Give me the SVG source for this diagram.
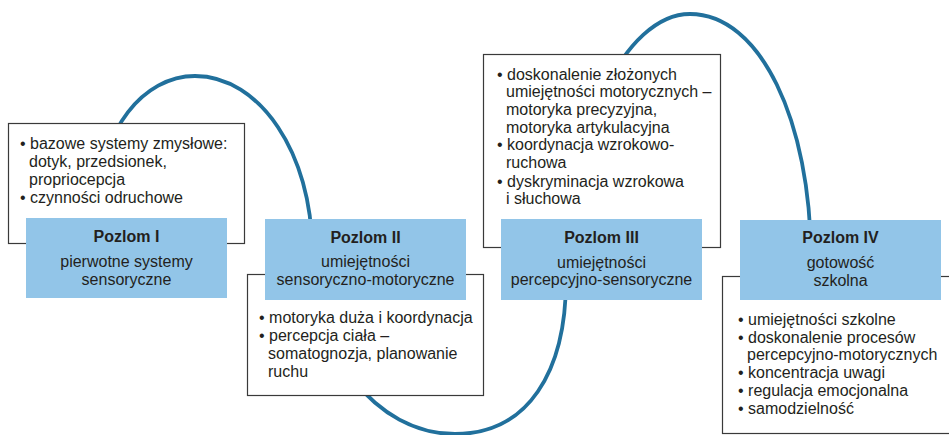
<svg xmlns="http://www.w3.org/2000/svg" width="949" height="435" viewBox="0 0 949 435">
<style>
.wb{fill:#fff;stroke:#3a3a3a;stroke-width:1.2}
.bb{fill:#92c5e8;stroke:none}
.t{font-family:"Liberation Sans",Arial,sans-serif;font-size:16px;fill:#231f20}
.h{font-family:"Liberation Sans",Arial,sans-serif;font-size:16px;font-weight:bold;fill:#231f20;text-anchor:middle}
.c{text-anchor:middle}
.curve{fill:none;stroke:#21709c;stroke-width:3.8}
</style>
<rect width="949" height="435" fill="#fff"/>
<g id="connectors">
<path class="curve" d="M100,200 C100,131 143,76 195,76 C260,76 312,154 312,250 C312,352 376,434 455,434 C528,434 566,372 566,280 C566,133 625,14 690,14 C760,14 811,120 811,260 C811,300 811,330 830,360"/>
</g>
<g id="level1">
<rect class="wb" x="8.5" y="123.5" width="236" height="120"/>
<text class="t" x="20" y="149">• bazowe systemy zmysłowe:</text>
<text class="t" x="29" y="167">dotyk, przedsionek,</text>
<text class="t" x="29" y="185">propriocepcja</text>
<text class="t" x="20" y="203">• czynności odruchowe</text>
<rect class="bb" x="26" y="218" width="201" height="80"/>
<text class="h" x="126.5" y="242">Pozlom I</text>
<text class="t c" x="126.5" y="267">pierwotne systemy</text>
<text class="t c" x="126.5" y="285">sensoryczne</text>
</g>
<g id="level2">
<rect class="wb" x="247.5" y="274.5" width="236" height="121"/>
<rect class="bb" x="265" y="219" width="201" height="81"/>
<text class="h" x="365.5" y="243">Pozlom II</text>
<text class="t c" x="365.5" y="267">umiejętności</text>
<text class="t c" x="365.5" y="285">sensoryczno-motoryczne</text>
<text class="t" x="259" y="323">• motoryka duża i koordynacja</text>
<text class="t" x="259" y="341">• percepcja ciała –</text>
<text class="t" x="268" y="359">somatognozja, planowanie</text>
<text class="t" x="268" y="377">ruchu</text>
</g>
<g id="level3">
<rect class="wb" x="483.5" y="54.5" width="237" height="193"/>
<text class="t" x="497" y="80">• doskonalenie złożonych</text>
<text class="t" x="506" y="97">umiejętności motorycznych –</text>
<text class="t" x="506" y="115">motoryka precyzyjna,</text>
<text class="t" x="506" y="133">motoryka artykulacyjna</text>
<text class="t" x="497" y="150">• koordynacja wzrokowo-</text>
<text class="t" x="506" y="168">ruchowa</text>
<text class="t" x="497" y="187">• dyskryminacja wzrokowa</text>
<text class="t" x="506" y="204">i słuchowa</text>
<rect class="bb" x="501" y="219" width="201" height="81"/>
<text class="h" x="601.5" y="243">Pozlom III</text>
<text class="t c" x="601.5" y="268">umiejętności</text>
<text class="t c" x="601.5" y="285">percepcyjno-sensoryczne</text>
</g>
<g id="level4">
<rect class="wb" x="722.5" y="276.5" width="240" height="157"/>
<rect class="bb" x="740" y="220" width="201" height="80"/>
<text class="h" x="840.5" y="243">Pozlom IV</text>
<text class="t c" x="840.5" y="268">gotowość</text>
<text class="t c" x="840.5" y="286">szkolna</text>
<text class="t" x="738" y="325">• umiejętności szkolne</text>
<text class="t" x="738" y="343">• doskonalenie procesów</text>
<text class="t" x="747" y="360">percepcyjno-motorycznych</text>
<text class="t" x="738" y="378">• koncentracja uwagi</text>
<text class="t" x="738" y="396">• regulacja emocjonalna</text>
<text class="t" x="738" y="414">• samodzielność</text>
</g>
</svg>
